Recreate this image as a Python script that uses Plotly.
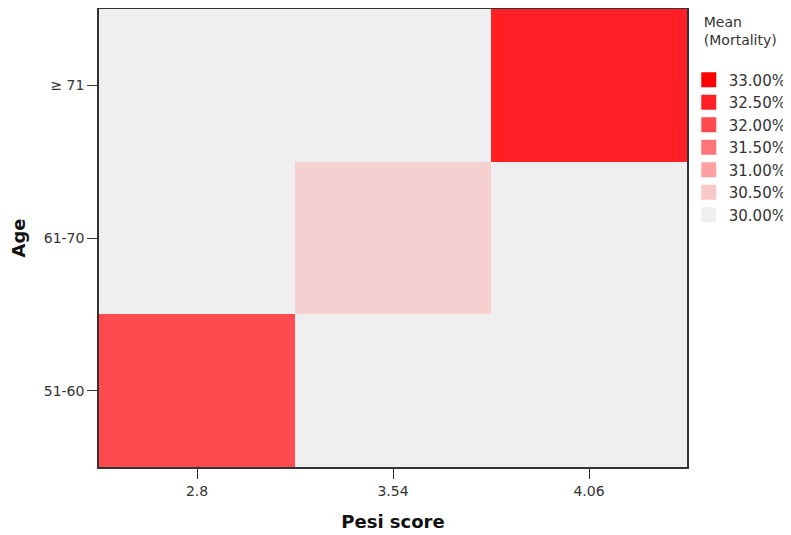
import plotly.graph_objects as go

pesi_scores = ["2.8", "3.54", "4.06"]
age_groups = ["51-60", "61-70", "≥ 71"]
# mortality mean (%) per [age group][pesi score]; None = no data
mortality = [
    [32.0, None, None],
    [None, 30.4, None],
    [None, None, 32.5],
]
legend_levels = ["33.00%", "32.50%", "32.00%", "31.50%", "31.00%", "30.50%", "30.00%"]
legend_colors = ["#ff0000", "#ff1f25", "#ff4a50", "#ff7478", "#ffa0a2", "#f8c8c8", "#efefef"]

scale_colors = list(reversed(legend_colors))
colorscale = [[i / 6, c] for i, c in enumerate(scale_colors)]

fig = go.Figure()
fig.add_trace(go.Heatmap(
    x=pesi_scores, y=age_groups, z=mortality,
    zmin=30, zmax=33, colorscale=colorscale, showscale=False,
    hoverongaps=False, xgap=0, ygap=0,
))
for lbl, col in zip(legend_levels, legend_colors):
    fig.add_trace(go.Scatter(
        x=[None], y=[None], mode="markers", name=lbl,
        marker=dict(symbol="square", size=15, color=col),
        showlegend=True,
    ))

font_family = "DejaVu Sans"
# page body has an 8px margin, so the figure is sized to fit the window from that offset
fig.update_layout(
    width=783, height=527,
    margin=dict(l=91, r=104, t=1, b=68, autoexpand=False),
    paper_bgcolor="white",
    plot_bgcolor="#efefef",
    font=dict(family=font_family, size=14, color="#333333"),
    legend=dict(
        title=dict(text="Mean<br>(Mortality)<br> ", side="top center", font=dict(size=14, color="#333333")),
        x=1.003, xanchor="left", y=1.0, yanchor="top",
        font=dict(size=15, color="#333333"),
        itemwidth=30, tracegroupgap=0, bgcolor="rgba(0,0,0,0)",
    ),
    xaxis=dict(
        type="category", categoryorder="array", categoryarray=pesi_scores,
        title=dict(text="<b>Pesi score</b>", font=dict(size=18, color="#111111"), standoff=18),
        ticks="outside", ticklen=10, tickcolor="#333333",
        showline=True, linecolor="#333333", linewidth=1.5, mirror=True,
        showgrid=False, zeroline=False, tickfont=dict(size=14),
    ),
    yaxis=dict(
        type="category", categoryorder="array", categoryarray=age_groups,
        title=dict(text="<b>Age</b>", font=dict(size=18, color="#111111"), standoff=16),
        ticks="outside", ticklen=10, tickcolor="#333333",
        showline=True, linecolor="#333333", linewidth=1.5, mirror=True,
        showgrid=False, zeroline=False, tickfont=dict(size=14),
    ),
)

fig.write_html("out.html")
